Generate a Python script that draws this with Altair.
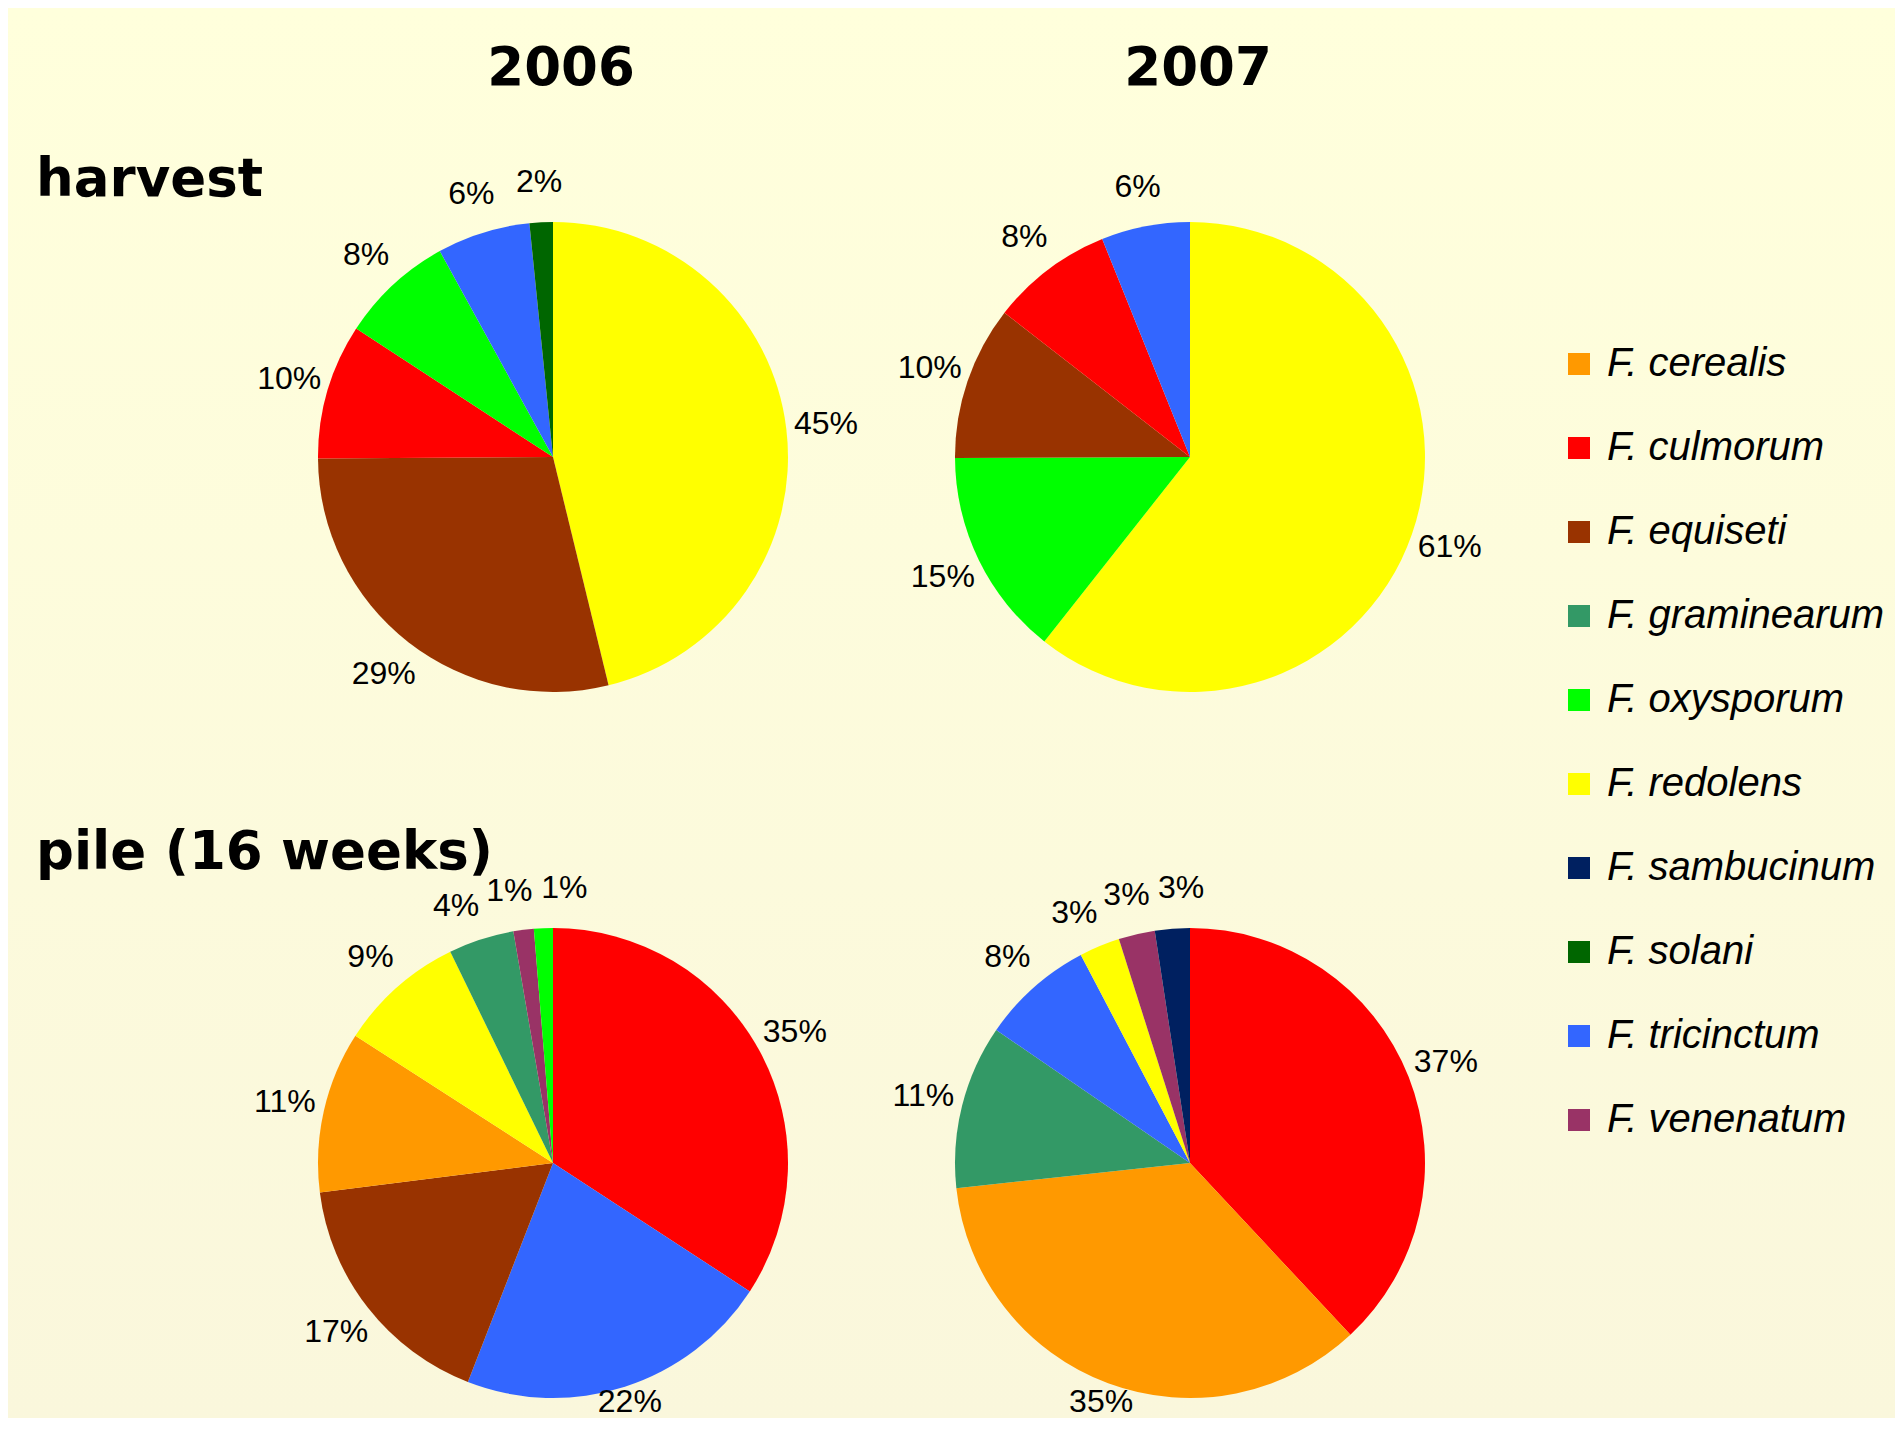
import math
import altair as alt
import pandas as pd

# ---------------- data ----------------
species = ["F. cerealis", "F. culmorum", "F. equiseti", "F. graminearum", "F. oxysporum",
           "F. redolens", "F. sambucinum", "F. solani", "F. tricinctum", "F. venenatum"]
colors = ["#FF9900", "#FF0000", "#993300", "#339966", "#00FF00",
          "#FFFF00", "#002060", "#006600", "#3366FF", "#993366"]

years = ["2006", "2007"]
stages = ["harvest", "pile (16 weeks)"]

h2006_species = ["F. redolens", "F. equiseti", "F. culmorum", "F. oxysporum", "F. tricinctum", "F. solani"]
h2006_values = [46.2, 28.7, 9.3, 7.8, 6.4, 1.6]
h2006_labels = ["45%", "29%", "10%", "8%", "6%", "2%"]

h2007_species = ["F. redolens", "F. oxysporum", "F. equiseti", "F. culmorum", "F. tricinctum"]
h2007_values = [60.7, 14.3, 10.6, 8.4, 6.1]
h2007_labels = ["61%", "15%", "10%", "8%", "6%"]

p2006_species = ["F. culmorum", "F. tricinctum", "F. equiseti", "F. cerealis", "F. redolens",
                 "F. graminearum", "F. venenatum", "F. oxysporum"]
p2006_values = [34.2, 21.7, 17.1, 11.1, 8.7, 4.5, 1.4, 1.3]
p2006_labels = ["35%", "22%", "17%", "11%", "9%", "4%", "1%", "1%"]

p2007_species = ["F. culmorum", "F. cerealis", "F. graminearum", "F. tricinctum", "F. redolens",
                 "F. venenatum", "F. sambucinum"]
p2007_values = [38.1, 35.3, 11.3, 7.75, 2.8, 2.5, 2.4]
p2007_labels = ["37%", "35%", "11%", "8%", "3%", "3%", "3%"]

panels = [
    ("2006", "harvest", h2006_species, h2006_values, h2006_labels),
    ("2007", "harvest", h2007_species, h2007_values, h2007_labels),
    ("2006", "pile (16 weeks)", p2006_species, p2006_values, p2006_labels),
    ("2007", "pile (16 weeks)", p2007_species, p2007_values, p2007_labels),
]

# ---------------- layout constants ----------------
W, H = 1887, 1410
TWO_PI = 2 * math.pi
PIE_R = 235
LABEL_R = 275
X_RANGE = [545, 1182]
Y_RANGE = [449, 1155]


def spread(mids, min_gap, iters=60):
    """Push neighbouring label angles apart so small slices' labels do not collide."""
    pos = list(mids)
    for _ in range(iters):
        for i in range(len(pos) - 1):
            d = pos[i + 1] - pos[i]
            if d < min_gap:
                s = (min_gap - d) / 2.0
                pos[i] -= s
                pos[i + 1] += s
    return pos


rows = []
for year, stage, sp, vals, labs in panels:
    total = float(sum(vals))
    cum = 0.0
    starts, ends = [], []
    for v in vals:
        starts.append(cum / total)
        cum += v
        ends.append(cum / total)
    mids = [(a + b) / 2 for a, b in zip(starts, ends)]
    lab_pos = spread(mids, 11.5 / 360.0)
    cy = Y_RANGE[stages.index(stage)]
    room = H - 16 - cy  # keep labels inside the bottom edge
    for s, v, lab, a, b, m in zip(sp, vals, labs, starts, ends, lab_pos):
        down = -math.cos(m * TWO_PI)
        r = LABEL_R if down <= 0 else min(LABEL_R, room / down)
        rows.append(dict(year=year, stage=stage, species=s, value=v, label=lab,
                         start=a, end=b, label_theta=m, label_r=r))
df = pd.DataFrame(rows)

xscale = alt.Scale(type="point", domain=years, range=X_RANGE, padding=0)
yscale = alt.Scale(type="point", domain=stages, range=Y_RANGE, padding=0)
tscale = alt.Scale(domain=[0, 1], range=[0, TWO_PI])
rscale = alt.Scale(type="linear", domain=[0, 400], range=[0, 400], zero=True)

bg = alt.Chart(pd.DataFrame({"a": [0]})).mark_rect(
    color=alt.Gradient(
        gradient="linear",
        stops=[alt.GradientStop(color="#FFFFDC", offset=0),
               alt.GradientStop(color="#FAF7DC", offset=1)],
        x1=0, x2=0, y1=0, y2=1,
    )
).encode(x=alt.value(0), x2=alt.value(W), y=alt.value(0), y2=alt.value(H))

arcs = alt.Chart(df).mark_arc(outerRadius=PIE_R).encode(
    x=alt.X("year:N", scale=xscale, axis=None),
    y=alt.Y("stage:N", scale=yscale, axis=None),
    theta=alt.Theta("start:Q", scale=tscale),
    theta2="end:Q",
    color=alt.Color(
        "species:N",
        scale=alt.Scale(domain=species, range=colors),
        legend=alt.Legend(
            title=None, orient="none", legendX=1551, legendY=336, direction="vertical",
            symbolType="square", symbolSize=484, symbolStrokeWidth=0, symbolOpacity=1,
            labelFont="Liberation Sans", labelFontStyle="italic", labelFontSize=40,
            labelColor="black", labelLimit=600, labelOffset=8, rowPadding=44, padding=0,
        ),
    ),
)

labels = alt.Chart(df).mark_text(
    font="Liberation Sans", fontSize=32, color="black",
    align="center", baseline="middle",
).encode(
    x=alt.X("year:N", scale=xscale, axis=None),
    y=alt.Y("stage:N", scale=yscale, axis=None),
    theta=alt.Theta("label_theta:Q", scale=tscale),
    radius=alt.Radius("label_r:Q", scale=rscale),
    text="label:N",
)

headers = alt.Chart(pd.DataFrame({"year": years})).mark_text(
    font="DejaVu Sans", fontWeight="bold", fontSize=53, color="black",
    align="center", baseline="alphabetic", dx=8,
).encode(
    x=alt.X("year:N", scale=xscale, axis=None),
    y=alt.value(77),
    text="year:N",
)

row1 = alt.Chart(pd.DataFrame({"stage": [stages[0]]})).mark_text(
    font="DejaVu Sans", fontWeight="bold", fontSize=53, color="black",
    align="left", baseline="alphabetic",
).encode(x=alt.value(28), y=alt.value(188), text="stage:N")

row2 = alt.Chart(pd.DataFrame({"stage": [stages[1]]})).mark_text(
    font="DejaVu Sans", fontWeight="bold", fontSize=53, color="black",
    align="left", baseline="alphabetic",
).encode(x=alt.value(28), y=alt.value(861), text="stage:N")

chart = alt.layer(bg, arcs, labels, headers, row1, row2).properties(
    width=W, height=H, padding=0, autosize="none", background="#FFFFDC",
).configure_view(stroke=None)

chart.save("out.html", embed_options={"renderer": "svg", "actions": False})
